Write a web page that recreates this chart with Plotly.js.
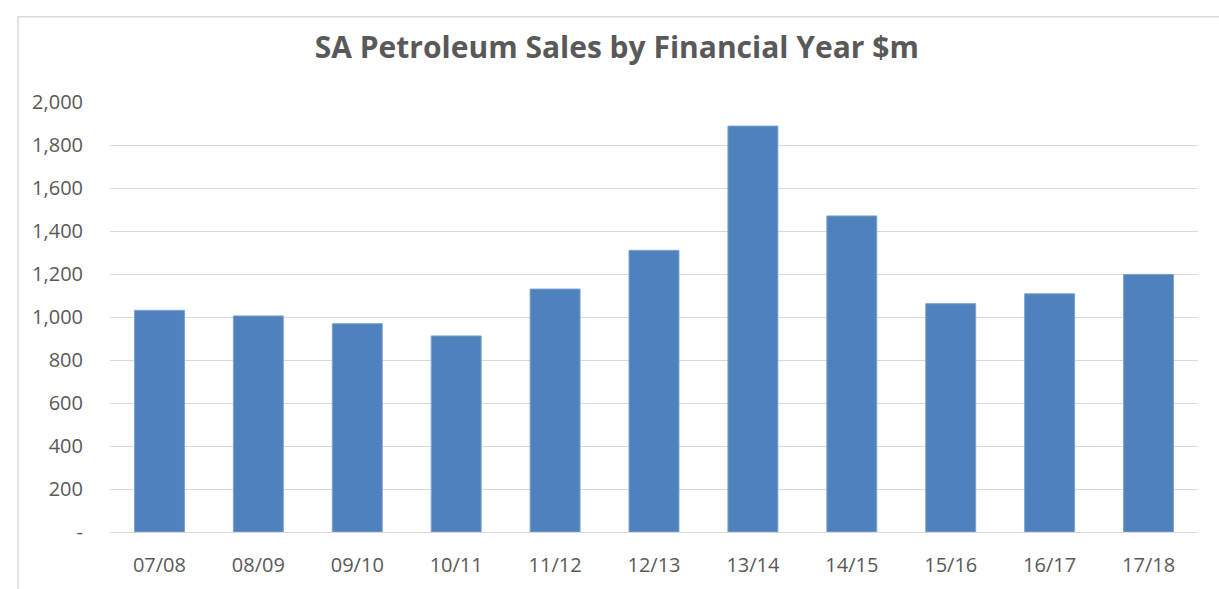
<!DOCTYPE html>
<html>
<head>
<meta charset="utf-8">
<script src="https://cdn.plot.ly/plotly-3.0.1.min.js"></script>
<style>html,body{margin:0;padding:0;background:#fff;}#chart{width:1219px;height:589px;}</style>
</head>
<body>
<div id="chart"></div>
<script>
const categories = ["07/08","08/09","09/10","10/11","11/12","12/13","13/14","14/15","15/16","16/17","17/18"];
const sales = [1031, 1005, 969, 912, 1130, 1310, 1888, 1470, 1062, 1108, 1198];
const tickValues = [0,200,400,600,800,1000,1200,1400,1600,1800,2000];
const tickLabels = ["-","200","400","600","800","1,000","1,200","1,400","1,600","1,800","2,000"];

const font = "Open Sans, Liberation Sans, sans-serif";
Plotly.newPlot("chart", [{
  type: "bar",
  x: categories,
  y: sales,
  marker: {color: "#4F81BD", line: {color: "#7DA3D4", width: 1}},
  hoverinfo: "x+y"
}], {
  width: 1219, height: 589,
  margin: {l: 110, r: 21, t: 102, b: 57},
  paper_bgcolor: "#fff", plot_bgcolor: "#fff",
  bargap: 0.495,
  showlegend: false,
  title: {text: "<b>SA Petroleum Sales by Financial Year $m</b>", x: 0.506, xanchor: "center", y: 0.92, yanchor: "middle",
          font: {family: font, size: 30, color: "#595959"}},
  xaxis: {type: "category", showgrid: false, zeroline: false, showline: true, linecolor: "#D9D9D9", linewidth: 1,
          ticks: "", tickfont: {family: font, size: 20, color: "#595959"}, ticklabelstandoff: 15},
  yaxis: {range: [0, 2000], tickvals: tickValues, ticktext: tickLabels, showgrid: true, gridcolor: "#D9D9D9", gridwidth: 1,
          zeroline: false, showline: false, ticks: "", tickfont: {family: font, size: 20, color: "#595959"}, ticklabelstandoff: 26},
  shapes: [{type: "rect", xref: "paper", yref: "paper", x0: -0.0845, x1: 1.1, y0: -0.2, y1: 1.198,
            line: {color: "#D9D9D9", width: 1.5}, fillcolor: "rgba(0,0,0,0)", layer: "below"}]
}, {staticPlot: true});
</script>
</body>
</html>
